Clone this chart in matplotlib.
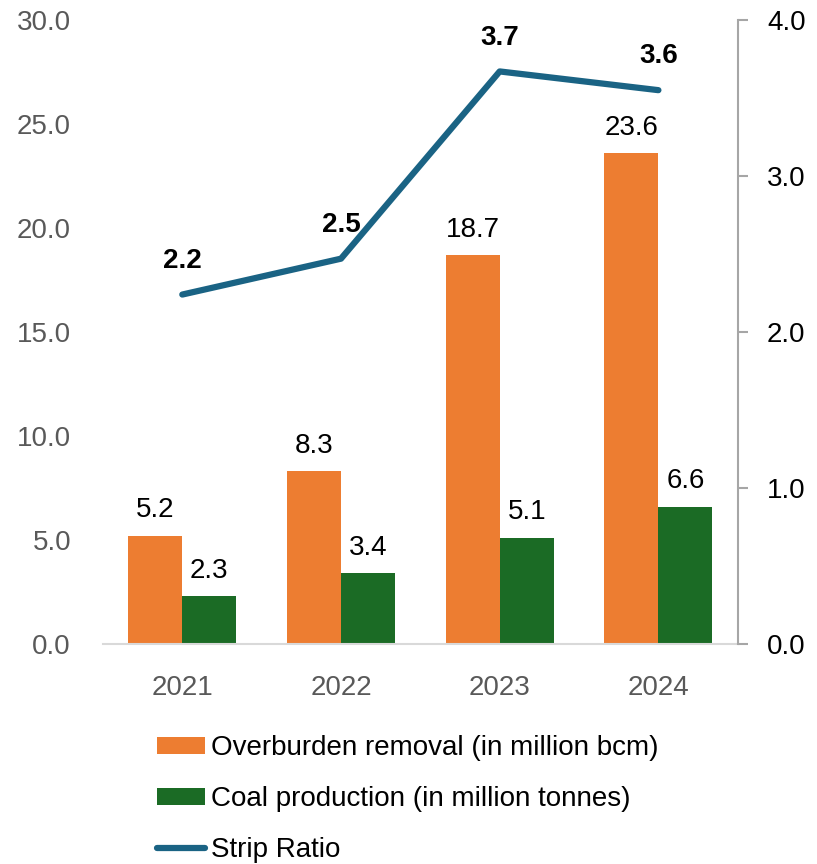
import numpy as np
import matplotlib.pyplot as plt

years = ['2021', '2022', '2023', '2024']
overburden = [5.2, 8.3, 18.7, 23.6]
coal = [2.3, 3.4, 5.1, 6.6]
strip_ratio = [2.24, 2.47, 3.67, 3.55]
strip_labels = ['2.2', '2.5', '3.7', '3.6']

plt.rcParams['font.family'] = ['Liberation Sans', 'DejaVu Sans']
FS = 20

fig = plt.figure(figsize=(8.17, 8.64), dpi=100)
ax = fig.add_axes([0.126, 0.2546, 0.777, 0.7223])
ax2 = ax.twinx()

x = np.arange(len(years))
w = 0.34
b1 = ax.bar(x - w/2, overburden, w, color='#ED7D31', label='Overburden removal (in million bcm)', zorder=2)
b2 = ax.bar(x + w/2, coal, w, color='#1B6B25', label='Coal production (in million tonnes)', zorder=2)

for xi, v in zip(x - w/2, overburden):
    ax.annotate(f'{v:.1f}', (xi, v), xytext=(0, 9), textcoords='offset points',
                ha='center', va='bottom', fontsize=FS, color='black')
for xi, v in zip(x + w/2, coal):
    ax.annotate(f'{v:.1f}', (xi, v), xytext=(0, 9), textcoords='offset points',
                ha='center', va='bottom', fontsize=FS, color='black')

ln, = ax2.plot(x, strip_ratio, color='#1A6384', lw=4.5, solid_capstyle='round', label='Strip Ratio', zorder=3)
for xi, v, s in zip(x, strip_ratio, strip_labels):
    ax2.annotate(s, (xi, v), xytext=(0, 15), textcoords='offset points',
                 ha='center', va='bottom', fontsize=FS, fontweight='bold', color='black')

ax.set_xlim(-0.5, 3.5)
ax.set_ylim(0, 30)
ax.set_yticks(np.arange(0, 31, 5))
ax.set_yticklabels([f'{v:.1f}' for v in np.arange(0, 31, 5)])
ax2.set_ylim(0, 4)
ax2.set_yticks(np.arange(0, 4.1, 1))
ax2.set_yticklabels([f'{v:.1f}' for v in np.arange(0, 4.1, 1)])
ax.set_xticks(x)
ax.set_xticklabels(years)

for a in (ax, ax2):
    for s in ('top', 'left', 'right', 'bottom'):
        a.spines[s].set_visible(False)
ax.spines['bottom'].set_visible(True)
ax.spines['bottom'].set_color('#D9D9D9')
ax.spines['bottom'].set_linewidth(1.5)
ax2.spines['right'].set_visible(True)
ax2.spines['right'].set_color('#A6A6A6')
ax2.spines['right'].set_linewidth(1.5)

ax.tick_params(axis='y', length=0, labelsize=FS, labelcolor='#595959', pad=23)
ax.tick_params(axis='x', length=0, labelsize=FS, labelcolor='#595959', pad=22)
ax2.tick_params(axis='y', length=7, width=1.5, color='#A6A6A6', labelsize=FS, labelcolor='black', pad=14)

fig.legend(handles=[b1, b2, ln], loc='upper left', bbox_to_anchor=(0.178, 0.162),
           frameon=False, fontsize=FS, handlelength=1.75, handleheight=0.6,
           handletextpad=0.2, labelspacing=0.9, borderaxespad=0)

fig.savefig('out.png', dpi=100)
